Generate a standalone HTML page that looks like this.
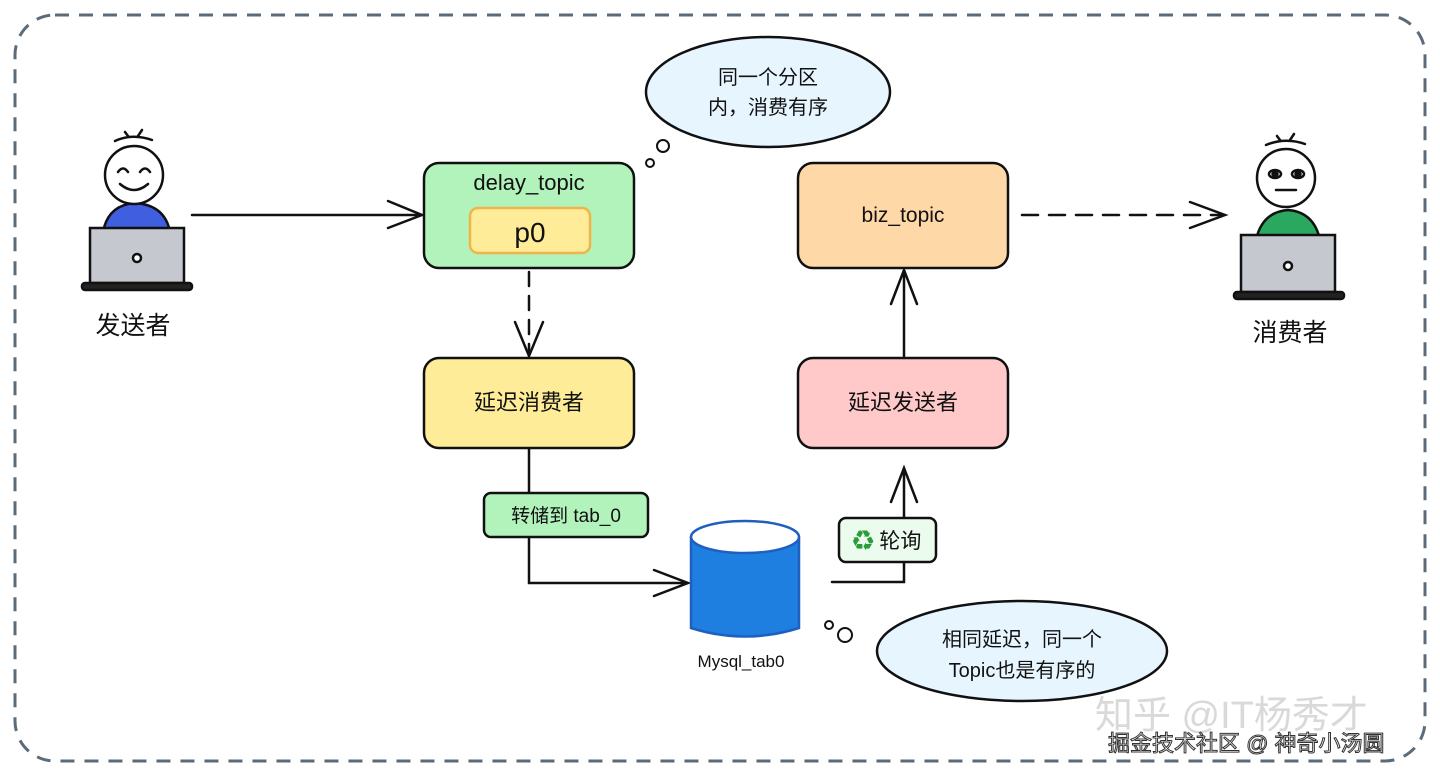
<!DOCTYPE html>
<html><head><meta charset="utf-8"><style>
html,body{margin:0;padding:0;background:#fff;}
svg{display:block;}
text{font-family:"Liberation Sans","Noto Sans CJK SC",sans-serif;}
</style></head><body>
<svg width="1440" height="778" viewBox="0 0 1440 778" xmlns="http://www.w3.org/2000/svg">
<rect x="15" y="15" width="1410" height="746" rx="40" fill="none" stroke="#5b6b79" stroke-width="3" stroke-dasharray="14 10"/>
<g stroke="#111" stroke-width="2.5" fill="none" stroke-linecap="round">
<!-- sender -->
<path d="M103 232 Q108 205 135 203 Q165 205 170 232 Z" fill="#3f5fe0"/>
<circle cx="134" cy="175" r="29" fill="#fff"/>
<path d="M115 141 Q132 133 152 140 M128 136 L125 132 M138 136 L142 130"/>
<path d="M118 172 Q123 165 128 172 M140 172 Q145 165 150 172 M120 184 Q134 196 148 184"/>
<rect x="90" y="228" width="94" height="55" fill="#c5c8cf"/>
<rect x="82" y="283" width="110" height="7" rx="3" fill="#222"/>
<circle cx="137" cy="258" r="4" fill="#fff"/>
<!-- consumer -->
<path d="M1256 240 Q1262 212 1288 210 Q1314 212 1320 240 Z" fill="#2aa860"/>
<circle cx="1286" cy="178" r="29" fill="#fff"/>
<path d="M1266 145 Q1285 137 1305 144 M1280 140 L1277 136 M1290 140 L1294 134"/>
<ellipse cx="1275" cy="174" rx="6" ry="4" fill="#fff"/><circle cx="1275" cy="174" r="2.5" fill="#111"/>
<ellipse cx="1298" cy="174" rx="6" ry="4" fill="#fff"/><circle cx="1298" cy="174" r="2.5" fill="#111"/>
<path d="M1276 190 L1296 190"/>
<rect x="1241" y="235" width="94" height="57" fill="#c5c8cf"/>
<rect x="1234" y="292" width="110" height="7" rx="3" fill="#222"/>
<circle cx="1288" cy="266" r="4" fill="#fff"/>
<!-- arrows -->
<path d="M192 215 L420 215 M388 201 L422 215 L388 228"/>
<path d="M529 272 L529 352" stroke-dasharray="14 10"/>
<path d="M515 322 L529 356 L543 322"/>
<path d="M529 449 L529 583 L686 583 M654 570 L688 583 L654 596"/>
<path d="M832 582 L904 582 L904 472 M891 502 L904 468 L917 502"/>
<path d="M904 356 L904 274 M891 304 L904 270 L917 304"/>
<path d="M1022 215 L1222 215" stroke-dasharray="16 11"/>
<path d="M1190 202 L1225 215 L1190 228"/>
<!-- boxes -->
<rect x="424" y="163" width="210" height="105" rx="15" fill="#b2f2bb"/>
<rect x="470" y="208" width="120" height="45" rx="8" fill="#ffec99" stroke="#f0b54a"/>
<rect x="424" y="358" width="210" height="90" rx="15" fill="#ffec99"/>
<rect x="798" y="163" width="210" height="105" rx="15" fill="#ffd8a8"/>
<rect x="798" y="358" width="210" height="90" rx="15" fill="#ffc9c9"/>
<rect x="484" y="493" width="164" height="44" rx="7" fill="#b2f2bb"/>
<rect x="839" y="518" width="97" height="44" rx="7" fill="#ebfbee"/>
<!-- cylinder -->
<path d="M691 537 L691 628 Q745 645 799 628 L799 537" fill="#1e7fe0" stroke="#1e5fc0"/>
<ellipse cx="745" cy="537" rx="54" ry="16" fill="#fff" stroke="#1e5fc0"/>
<!-- bubbles -->
<ellipse cx="768" cy="92" rx="122" ry="55" fill="#e7f5ff"/>
<circle cx="663" cy="146" r="6" fill="#fff" stroke-width="2"/>
<circle cx="650" cy="163" r="4" fill="#fff" stroke-width="2"/>
<ellipse cx="1022" cy="651" rx="145" ry="50" fill="#e7f5ff"/>
<circle cx="829" cy="625" r="4" fill="#fff" stroke-width="2"/>
<circle cx="845" cy="635" r="7" fill="#fff" stroke-width="2"/>
</g>
<g fill="#111" text-anchor="middle">
<text x="133" y="334" font-size="25">发送者</text>
<text x="1290" y="341" font-size="25">消费者</text>
<text x="529" y="190" font-size="22">delay_topic</text>
<text x="530" y="242" font-size="28">p0</text>
<text x="529" y="410" font-size="22">延迟消费者</text>
<text x="903" y="222" font-size="21">biz_topic</text>
<text x="903" y="410" font-size="22">延迟发送者</text>
<text x="566" y="522" font-size="19">转储到 tab_0</text>
<text x="887" y="548" font-size="21"><tspan fill="#2a9d3a">♻</tspan> 轮询</text>
<text x="741" y="667" font-size="17">Mysql_tab0</text>
<text x="768" y="84" font-size="20">同一个分区</text>
<text x="768" y="114" font-size="20">内，消费有序</text>
<text x="1022" y="646" font-size="20">相同延迟，同一个</text>
<text x="1022" y="677" font-size="20">Topic也是有序的</text>
</g>
<text x="1095" y="728" font-size="38" fill="#d9d9d9">知乎 @IT杨秀才</text>
<text x="1108" y="751" font-size="22" fill="#fff" stroke="#333" stroke-width="1">掘金技术社区 @ 神奇小汤圆</text>
</svg>
</body></html>
